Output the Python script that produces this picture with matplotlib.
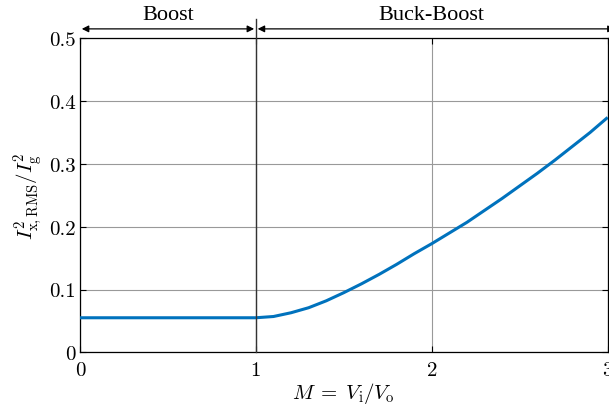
import numpy as np
import matplotlib.pyplot as plt
import matplotlib.transforms as mtransforms

plt.rcParams['mathtext.fontset'] = 'cm'
plt.rcParams['axes.unicode_minus'] = False

# values
M = [0.0, 0.5, 1.0, 1.1, 1.2, 1.3, 1.4, 1.5, 1.6, 1.7, 1.8, 1.9, 2.0,
     2.1, 2.2, 2.3, 2.4, 2.5, 2.6, 2.7, 2.8, 2.9, 3.0]
Ix2 = [0.055, 0.055, 0.055, 0.057, 0.063, 0.071, 0.082, 0.095, 0.109, 0.124,
       0.140, 0.157, 0.173, 0.190, 0.207, 0.226, 0.245, 0.265, 0.285, 0.306,
       0.328, 0.350, 0.374]
xticks = [0, 1, 2, 3]
yticks = [0, 0.1, 0.2, 0.3, 0.4, 0.5]
ytick_labels = ['0', '0.1', '0.2', '0.3', '0.4', '0.5']
regions = ['Boost', 'Buck-Boost']
region_edges = [(0, 1), (1, 3.05)]

fig = plt.figure(figsize=(6.09, 4.06), dpi=100)
ax = fig.add_axes([0.1314, 0.1298, 0.8664, 0.7734])

ax.plot(M, Ix2, color='#0072BD', lw=2.2, solid_capstyle='butt',
        solid_joinstyle='round', zorder=3)

ax.set_xlim(0, 3)
ax.set_ylim(0, 0.5)
ax.set_xticks(xticks)
ax.set_xticklabels([str(t) for t in xticks], fontfamily='cmr10', fontsize=15)
ax.set_yticks(yticks)
ax.set_yticklabels(ytick_labels, fontfamily='cmr10', fontsize=15)
ax.tick_params(direction='in', top=True, right=True, length=4, width=0.8)
ax.tick_params(axis='x', pad=6)
ax.tick_params(axis='y', pad=3)
ax.grid(True, color='#999999', lw=0.8)
ax.set_axisbelow(True)
for s in ax.spines.values():
    s.set_linewidth(0.9)

ax.set_xlabel(r'$M\;=\;V_{\mathrm{i}}/V_{\mathrm{o}}$', fontsize=15, labelpad=1)
ax.set_ylabel(r'$I^2_{\mathrm{x,RMS}}/I^2_{\mathrm{g}}$', fontsize=15, labelpad=3)

# boundary line between regions, reaching above the axes
trans = mtransforms.blended_transform_factory(ax.transData, ax.transAxes)
ax.plot([1, 1], [0, 1.062], transform=trans, color='#333333', lw=1.0,
        clip_on=False, zorder=4)

for name, (a, b) in zip(regions, region_edges):
    ax.annotate('', xy=(a + 0.01, 1.03), xytext=(b - 0.01, 1.03),
                xycoords=trans, textcoords=trans,
                arrowprops=dict(arrowstyle='<|-|>', color='black', lw=0.9,
                                mutation_scale=10, shrinkA=0, shrinkB=0),
                annotation_clip=False)
    ax.text((a + min(b, 3)) / 2, 1.076, name, transform=trans, ha='center',
            va='center', fontsize=16, fontfamily='Liberation Serif')

fig.savefig('out.png', dpi=100)
